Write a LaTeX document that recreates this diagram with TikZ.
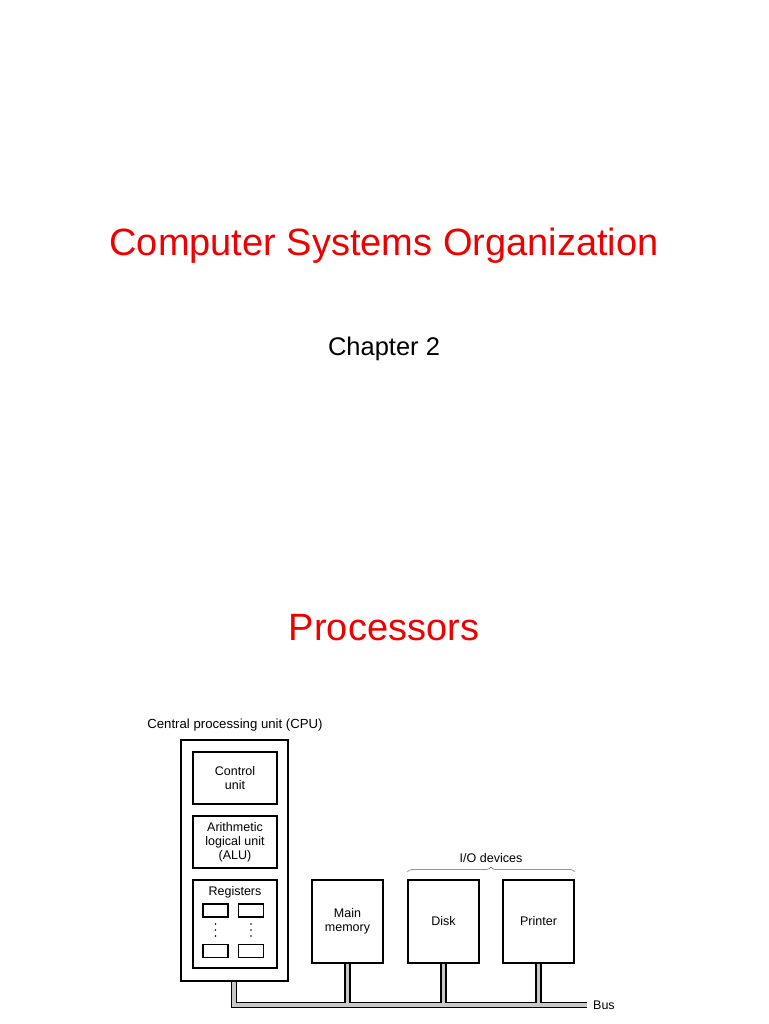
\documentclass[tikz,border=0pt]{standalone}
\usepackage{fontspec}
\setmainfont{Liberation Sans}
\usetikzlibrary{decorations.pathreplacing}
\definecolor{slidered}{RGB}{238,0,0}
\definecolor{busgray}{RGB}{200,200,200}
\newcommand{\regdots}[1]{\foreach \y in {924,930,936}{\fill (#1,\y) circle (0.9);}}
\tikzset{
  unitbox/.style={draw, line width=1.3pt, align=center, font=\fontsize{12.5}{14}\selectfont},
  regbox/.style={draw, line width=1.1pt, minimum width=25, minimum height=13, inner sep=0pt}
}

\begin{document}
\begin{tikzpicture}[x=1pt, y=-1pt]
\useasboundingbox (0,0) rectangle (768,1024);
\node[text=slidered, font=\fontsize{38}{46}\selectfont] (title) at (384,246) {Computer Systems Organization};
\node[font=\fontsize{25.5}{30}\selectfont] (chapter) at (384,349) {Chapter 2};
\node[text=slidered, font=\fontsize{38}{46}\selectfont] (proc) at (384,628) {Processors};
% CPU
\node[font=\fontsize{13.2}{15}\selectfont] (cpulabel) at (235,725) {Central processing unit (CPU)};
\node[unitbox, minimum width=107, minimum height=241] (cpu) at (234.5,860.5) {};
\node[unitbox, minimum width=84, minimum height=52] (ctrl) at (235,778) {Control\\unit};
\node[unitbox, minimum width=84, minimum height=52] (alu) at (235,842) {Arithmetic\\logical unit\\(ALU)};
\node[unitbox, minimum width=84, minimum height=88] (regs) at (235,924) {};
\node[font=\fontsize{12.5}{14}\selectfont] (regslabel) at (235,892) {Registers};
\node[regbox] (r1) at (215.5,910.5) {};
\node[regbox] (r2) at (251,910.5) {};
\node[regbox] (r3) at (215.5,951) {};
\node[regbox] (r4) at (251,951) {};
\regdots{215.5}\regdots{251}
% memory and I/O
\node[unitbox, minimum width=71, minimum height=83] (mem) at (347.5,921.5) {Main\\memory};
\node[unitbox, minimum width=71, minimum height=83] (disk) at (443.5,921.5) {Disk};
\node[unitbox, minimum width=71, minimum height=83] (printer) at (538.5,921.5) {Printer};
\draw[decorate, decoration={brace, amplitude=5pt}, line width=0.5pt, gray!70!black]
  (disk.north west |- 0,872) -- (printer.north east |- 0,872)
  node[midway, above=6pt, black, font=\fontsize{12.5}{14}\selectfont] (iolabel) {I/O devices};
% bus
\coordinate (busl) at (234,1005);
\coordinate (busr) at (587,1005);
\foreach \w/\c in {6.5pt/black, 3.6pt/busgray}{
  \draw[line width=\w, \c, line join=miter] (busl |- cpu.south) -- (busl) -- (busr);
  \draw[line width=\w, \c] (mem.south) -- (mem.south |- busl);
  \draw[line width=\w, \c] (disk.south) -- (disk.south |- busl);
  \draw[line width=\w, \c] (printer.south) -- (printer.south |- busl);
}
\node[anchor=west, inner sep=0pt, font=\fontsize{12.5}{14}\selectfont] (buslabel) at (593,1005) {Bus};
\end{tikzpicture}
\end{document}
